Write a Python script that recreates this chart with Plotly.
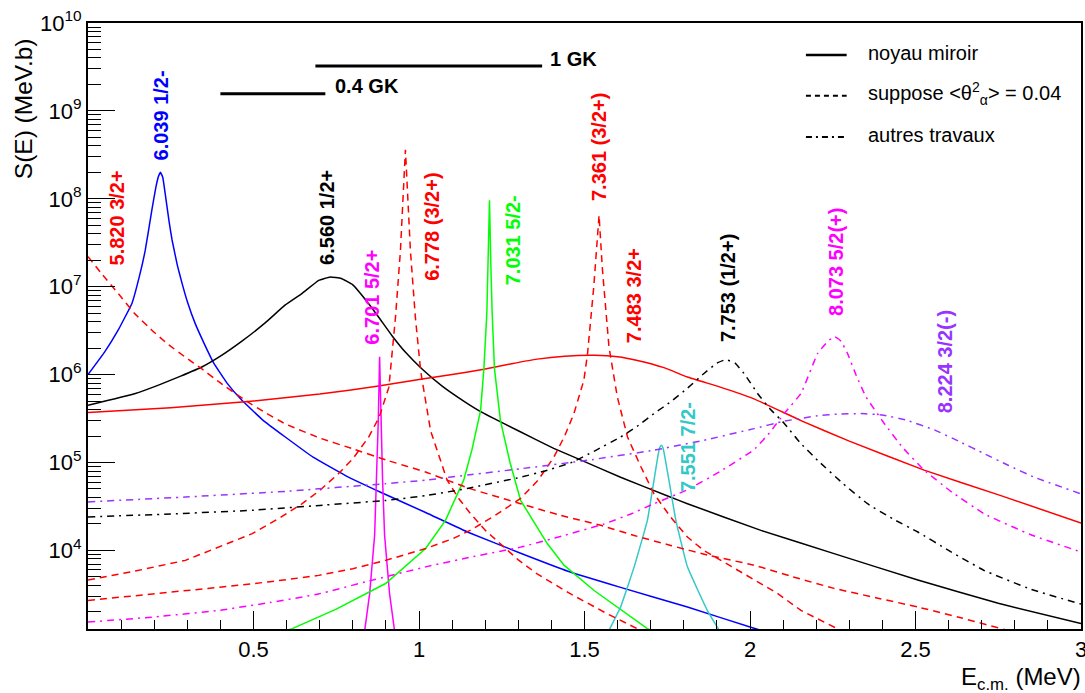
import math
import plotly.graph_objects as go

# ---------------- data ----------------
# solid : "noyau miroir"
blue_6039_x = [0.0, 0.05, 0.091, 0.133, 0.155, 0.173, 0.193, 0.205, 0.213, 0.219, 0.226, 0.233, 0.245, 0.254, 0.27,
               0.284, 0.30, 0.324, 0.35, 0.380, 0.42, 0.465, 0.53, 0.596, 0.68, 0.778, 0.889, 1.020, 1.15, 1.307,
               1.45, 1.609, 1.811, 2.012, 2.10]
blue_6039_y = [1.0e6, 1.8e6, 3.2e6, 6.5e6, 1.3e7, 2.6e7, 7.5e7, 1.35e8, 1.8e8, 2.0e8, 1.75e8, 1.16e8, 5.5e7, 3.4e7,
               1.75e7, 1.1e7, 6.8e6, 3.8e6, 2.3e6, 1.35e6, 8.0e5, 5.1e5, 3.0e5, 1.95e5, 1.15e5, 7.1e4, 4.5e4, 2.7e4,
               1.6e4, 9.3e3, 5.8e3, 3.8e3, 2.27e3, 1.3e3, 1.05e3]

black_6560_x = [0.0, 0.143, 0.213, 0.28, 0.344, 0.40, 0.465, 0.536, 0.596, 0.647, 0.697, 0.732, 0.765, 0.80, 0.848,
                0.88, 0.919, 0.96, 1.010, 1.07, 1.135, 1.186, 1.30, 1.407, 1.488, 1.609, 1.755, 1.811, 2.033, 2.254,
                2.507, 2.75, 3.0]
black_6560_y = [4.48e5, 6.1e5, 7.6e5, 9.6e5, 1.22e6, 1.62e6, 2.4e6, 3.9e6, 6.2e6, 8.4e6, 1.18e7, 1.29e7, 1.24e7,
                1.05e7, 6.4e6, 4.4e6, 2.75e6, 1.78e6, 1.15e6, 7.4e5, 5.0e5, 3.8e5, 2.3e5, 1.45e5, 1.07e5, 6.8e4,
                4.1e4, 3.4e4, 1.69e4, 9.2e3, 4.6e3, 2.5e3, 1.47e3]

red_7483_x = [0.0, 0.25, 0.475, 0.70, 0.878, 1.010, 1.10, 1.196, 1.28, 1.357, 1.44, 1.529, 1.60, 1.660, 1.74, 1.811,
              1.91, 2.012, 2.154, 2.30, 2.526, 2.758, 3.0]
red_7483_y = [3.7e5, 4.2e5, 4.9e5, 6.0e5, 7.4e5, 8.9e5, 1.0e6, 1.15e6, 1.33e6, 1.5e6, 1.62e6, 1.66e6, 1.6e6, 1.45e6,
              1.2e6, 9.4e5, 7.2e5, 5.3e5, 3.0e5, 1.75e5, 8.2e4, 4.2e4, 2.05e4]

mag_6701_x = [0.836, 0.851, 0.866, 0.872, 0.877, 0.881, 0.885, 0.890, 0.896, 0.911, 0.926]
mag_6701_y = [1.23e3, 3.25e3, 1.5e4, 6.3e4, 3.0e5, 1.6e6, 3.0e5, 6.3e4, 1.5e4, 3.25e3, 1.23e3]

green_7031_x = [0.557, 0.617, 0.75, 0.899, 1.020, 1.080, 1.135, 1.16, 1.186, 1.196, 1.205, 1.209, 1.213, 1.217,
                1.221, 1.228, 1.238, 1.246, 1.275, 1.307, 1.388, 1.438, 1.529, 1.690, 1.736]
green_7031_y = [1.1e3, 1.29e3, 2.15e3, 4.2e3, 1.05e4, 2.2e4, 6.3e4, 1.4e5, 3.9e5, 1.17e6, 5.1e6, 1.8e7, 9.6e7, 1.8e7,
                5.1e6, 1.17e6, 5.1e5, 3.0e5, 1.0e5, 3.7e4, 1.19e4, 6.8e3, 3.5e3, 1.29e3, 1.1e3]

cyan_7551_x = [1.574, 1.609, 1.650, 1.690, 1.710, 1.722, 1.727, 1.732, 1.737, 1.742, 1.755, 1.776, 1.811, 1.871, 1.907]
cyan_7551_y = [1.23e3, 2.27e3, 6.5e3, 2.2e4, 6.3e4, 1.2e5, 1.47e5, 1.57e5, 1.47e5, 1.2e5, 6.3e4, 2.2e4, 6.5e3,
               2.08e3, 1.23e3]

# dashed : "suppose <theta^2> = 0.04"
red_5820_x = [0.0, 0.045, 0.092, 0.14, 0.193, 0.24, 0.294, 0.34, 0.395, 0.475, 0.53, 0.596, 0.70, 0.798, 0.90,
              1.020, 1.15, 1.307, 1.42, 1.549, 1.65, 1.760, 1.88, 2.012, 2.13, 2.254, 2.38, 2.507, 2.64, 2.779, 2.9]
red_5820_y = [2.2e7, 1.35e7, 8.3e6, 5.0e6, 3.2e6, 2.24e6, 1.58e6, 1.19e6, 8.3e5, 5.1e5, 3.8e5, 2.75e5, 1.9e5, 1.44e5,
              1.07e5, 7.8e4, 5.1e4, 3.4e4, 2.55e4, 1.93e4, 1.48e4, 1.14e4, 8.7e3, 6.8e3, 5.0e3, 3.7e3, 2.9e3,
              2.27e3, 1.7e3, 1.23e3, 9.5e2]

red_6778_x = [0.0, 0.15, 0.294, 0.40, 0.496, 0.58, 0.647, 0.70, 0.757, 0.80, 0.848, 0.88, 0.909, 0.929, 0.944,
              0.954, 0.959, 0.964, 0.974, 0.989, 1.005, 1.012, 1.035, 1.06, 1.085, 1.12, 1.156, 1.20, 1.256, 1.30,
              1.357, 1.458, 1.569, 1.670, 1.73]
red_6778_y = [4.6e3, 5.9e3, 7.7e3, 1.12e4, 1.55e4, 2.35e4, 3.4e4, 4.8e4, 7.5e4, 1.1e5, 1.95e5, 3.3e5, 7.2e5, 4.5e6,
              2.6e7, 1.5e8, 3.6e8, 1.5e8, 2.6e7, 4.5e6, 1.1e6, 7.6e5, 2.3e5, 1.2e5, 6.3e4, 3.9e4, 2.6e4, 1.7e4,
              1.09e4, 7.8e3, 5.4e3, 3.2e3, 1.9e3, 1.23e3, 1.0e3]

red_7361_x = [0.0, 0.2, 0.395, 0.55, 0.697, 0.80, 0.899, 1.020, 1.10, 1.156, 1.23, 1.307, 1.36, 1.408, 1.44, 1.468,
              1.498, 1.509, 1.528, 1.544, 1.554, 1.574, 1.599, 1.630, 1.67, 1.710, 1.76, 1.811, 1.86, 1.912, 2.012,
              2.08, 2.154, 2.274, 2.37]
red_7361_y = [2.7e3, 3.2e3, 3.8e3, 4.4e3, 5.2e3, 6.2e3, 7.7e3, 1.05e4, 1.35e4, 1.7e4, 2.5e4, 3.9e4, 6.3e4, 1.16e5,
              2.0e5, 3.6e5, 8.6e5, 1.7e6, 1.0e7, 6.5e7, 1.6e7, 2.06e6, 5.6e5, 1.95e5, 9.0e4, 4.4e4, 2.4e4, 1.42e4,
              1.0e4, 7.7e3, 4.6e3, 3.3e3, 2.08e3, 1.23e3, 1.0e3]

# dash-dot : "autres travaux"
black_7753_x = [0.0, 0.25, 0.496, 0.70, 0.899, 1.020, 1.15, 1.307, 1.38, 1.458, 1.53, 1.609, 1.66, 1.710, 1.76, 1.811,
                1.861, 1.90, 1.927, 1.955, 1.982, 2.023, 2.06, 2.103, 2.15, 2.204, 2.28, 2.355, 2.43, 2.507, 2.60,
                2.708, 2.85, 3.0]
black_7753_y = [2.4e4, 2.6e4, 2.86e4, 3.25e4, 3.7e4, 4.2e4, 5.1e4, 6.8e4, 8.0e4, 9.9e4, 1.35e5, 1.95e5, 2.6e5, 3.6e5,
                4.9e5, 7.0e5, 1.03e6, 1.35e6, 1.48e6, 1.35e6, 1.03e6, 6.1e5, 4.1e5, 2.8e5, 1.7e5, 1.06e5, 5.8e4,
                3.4e4, 2.3e4, 1.62e4, 1.0e4, 5.9e3, 3.6e3, 2.45e3]

mag_8073_x = [0.0, 0.2, 0.395, 0.55, 0.697, 0.85, 1.020, 1.15, 1.307, 1.43, 1.559, 1.64, 1.710, 1.811, 1.912, 2.012,
              2.06, 2.103, 2.154, 2.204, 2.235, 2.256, 2.275, 2.295, 2.320, 2.350, 2.405, 2.46, 2.526, 2.61, 2.708,
              2.85, 3.0]
mag_8073_y = [1.53e3, 1.75e3, 2.08e3, 2.55e3, 3.2e3, 4.5e3, 6.5e3, 8.3e3, 1.09e4, 1.45e4, 2.0e4, 2.6e4, 3.4e4, 4.9e4,
              8.0e4, 1.4e5, 2.2e5, 3.6e5, 6.1e5, 1.73e6, 2.4e6, 2.7e6, 2.4e6, 1.73e6, 1.0e6, 5.6e5, 2.8e5, 1.5e5,
              8.2e4, 4.6e4, 2.6e4, 1.5e4, 9.6e3]

purple_8224_x = [0.0, 0.294, 0.598, 0.899, 1.020, 1.16, 1.307, 1.509, 1.710, 1.861, 2.012, 2.103, 2.204, 2.27, 2.335,
                 2.40, 2.47, 2.557, 2.63, 2.708, 2.78, 2.859, 3.0]
purple_8224_y = [3.56e4, 4.05e4, 4.7e4, 5.75e4, 6.3e4, 7.3e4, 8.5e4, 1.06e5, 1.38e5, 1.79e5, 2.43e5, 2.95e5, 3.4e5,
                 3.56e5, 3.6e5, 3.48e5, 3.05e5, 2.35e5, 1.75e5, 1.26e5, 9.3e4, 6.8e4, 4.4e4]

# Gamow windows
gamow_labels = ["0.4 GK", "1 GK"]
gamow_lo = [0.400, 0.687]
gamow_hi = [0.717, 1.372]
gamow_S = [1.57e9, 3.24e9]

# resonance labels
res_labels = ["5.820 3/2+", "6.039 1/2-", "6.560 1/2+", "6.701 5/2+", "6.778 (3/2+)", "7.031 5/2-",
              "7.361 (3/2+)", "7.483 3/2+", "7.551 7/2-", "7.753 (1/2+)", "8.073 5/2(+)", "8.224 3/2(-)"]

legend_labels = ["noyau miroir", "suppose &lt;θ<sup>2</sup><sub>α</sub>&gt; = 0.04", "autres travaux"]

x_tick_vals = [0.5, 1, 1.5, 2, 2.5, 3]
x_tick_text = ["0.5", "1", "1.5", "2", "2.5", "3"]
y_tick_exps = [4, 5, 6, 7, 8, 9, 10]

# ---------------- styles ----------------
RED = "#ff0000"
BLUE = "#0000ff"
GREEN = "#00ff00"
MAG = "#ff00ff"
CYAN = "#33c8c8"
PURPLE = "#9933ff"
BLACK = "#000000"
DASH = "7px,5px"
DASHDOT = "7px,5px,2px,5px"
FONT = "Liberation Sans, Arial, Helvetica, sans-serif"

fig = go.Figure()


def add_curve(x, y, color, dash="solid", shape="spline"):
    fig.add_trace(go.Scatter(x=x, y=y, mode="lines",
                             line=dict(color=color, width=1.5, dash=dash, shape=shape, smoothing=0.3),
                             showlegend=False, hoverinfo="skip"))


add_curve(blue_6039_x, blue_6039_y, BLUE)
add_curve(black_6560_x, black_6560_y, BLACK)
add_curve(red_7483_x, red_7483_y, RED)
add_curve(mag_6701_x, mag_6701_y, MAG, shape="linear")
add_curve(green_7031_x, green_7031_y, GREEN, shape="linear")
add_curve(cyan_7551_x, cyan_7551_y, CYAN)
add_curve(red_5820_x, red_5820_y, RED, DASH)
add_curve(red_6778_x, red_6778_y, RED, DASH, shape="linear")
add_curve(red_7361_x, red_7361_y, RED, DASH, shape="linear")
add_curve(black_7753_x, black_7753_y, BLACK, DASHDOT)
add_curve(mag_8073_x, mag_8073_y, MAG, DASHDOT)
add_curve(purple_8224_x, purple_8224_y, PURPLE, DASHDOT)

# Gamow window bars
for lo, hi, s in zip(gamow_lo, gamow_hi, gamow_S):
    fig.add_trace(go.Scatter(x=[lo, hi], y=[s, s], mode="lines", line=dict(color=BLACK, width=3),
                             showlegend=False, hoverinfo="skip"))

annotations = []
gk_shift = [(8, 8), (6, 7)]
for lab, hi, s, (dx, dy) in zip(gamow_labels, gamow_hi, gamow_S, gk_shift):
    annotations.append(dict(x=hi, y=math.log10(s), xref="x", yref="y", text="<b>%s</b>" % lab,
                            showarrow=False, xanchor="left", yanchor="middle", xshift=dx, yshift=dy,
                            font=dict(family=FONT, size=20, color=BLACK)))

# resonance label positions (x in MeV, log10 y)
res_pos = [(0.088, 7.778), (0.221, 8.950), (0.724, 7.790), (0.859, 6.879), (1.041, 7.676), (1.284, 7.528),
           (1.546, 8.586), (1.649, 6.902), (1.815, 5.173), (1.933, 6.982), (2.262, 7.278), (2.589, 6.151)]
res_colors = [RED, BLUE, BLACK, MAG, RED, GREEN, RED, RED, CYAN, BLACK, MAG, PURPLE]
for lab, (px, py), col in zip(res_labels, res_pos, res_colors):
    annotations.append(dict(x=px, y=py, xref="x", yref="y", text="<b>%s</b>" % lab, showarrow=False,
                            textangle=-90, xanchor="center", yanchor="middle",
                            font=dict(family=FONT, size=20, color=col)))

# legend (drawn manually)
leg_y = [0.947, 0.880, 0.812]
leg_dash = ["solid", "5px,4px", "6px,4px,2px,4px"]
shapes = []
for yy, dd, lab in zip(leg_y, leg_dash, legend_labels):
    shapes.append(dict(type="line", xref="paper", yref="paper", x0=0.723, x1=0.764, y0=yy, y1=yy,
                       line=dict(color=BLACK, width=2.5 if dd == "solid" else 2, dash=dd)))
    annotations.append(dict(x=0.783, y=yy, xref="paper", yref="paper", text=lab, showarrow=False,
                            xanchor="left", yanchor="middle", yshift=2,
                            font=dict(family=FONT, size=20, color=BLACK)))

# axis titles
annotations.append(dict(x=-0.0655, y=0.979, xref="paper", yref="paper", text="S(E) (MeV.b)", showarrow=False,
                        textangle=-90, xanchor="center", yanchor="top",
                        font=dict(family=FONT, size=24.5, color=BLACK)))
annotations.append(dict(x=1.002, y=-0.081, xref="paper", yref="paper", text="E<sub>c.m.</sub> (MeV)",
                        showarrow=False, xanchor="right", yanchor="middle",
                        font=dict(family=FONT, size=24, color=BLACK)))

fig.update_layout(
    width=1085, height=693,
    margin=dict(l=88, r=4, t=23, b=64),
    paper_bgcolor="white", plot_bgcolor="white",
    showlegend=False,
    annotations=annotations,
    shapes=shapes,
    xaxis=dict(range=[0, 3], showgrid=False, zeroline=False, showline=True, linecolor=BLACK, linewidth=2,
               mirror=True, ticks="inside", ticklen=18, tickwidth=1.2, tickcolor=BLACK, automargin=False,
               tickvals=x_tick_vals, ticktext=x_tick_text, ticklabeloverflow="allow",
               tickfont=dict(family=FONT, size=22, color=BLACK),
               minor=dict(ticks="inside", ticklen=9, tickwidth=1.2, tickcolor=BLACK, tick0=0, dtick=0.1,
                          showgrid=False)),
    yaxis=dict(type="log", range=[3.106, 10], showgrid=False, zeroline=False, showline=True, linecolor=BLACK,
               linewidth=2, mirror=True, ticks="inside", ticklen=27, tickwidth=1.2, tickcolor=BLACK,
               automargin=False, ticklabeloverflow="allow",
               tickvals=[10 ** e for e in y_tick_exps],
               ticktext=["10<sup>%d</sup>" % e for e in y_tick_exps],
               tickfont=dict(family=FONT, size=22, color=BLACK),
               minor=dict(ticks="inside", ticklen=13, tickwidth=1.2, tickcolor=BLACK, dtick="D1",
                          showgrid=False)),
)

fig.write_html("out.html", config={"displayModeBar": False},
               post_script="document.body.style.margin='0px';")
